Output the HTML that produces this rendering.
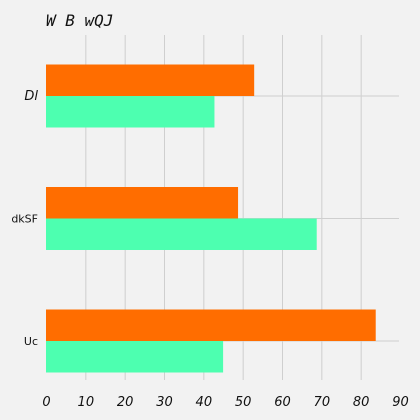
<!DOCTYPE html>
<html><head><meta charset="utf-8"><style>
html,body{margin:0;padding:0;background:#f2f2f2;overflow:hidden;width:420px;height:420px}
svg{display:block}
svg text{font-family:"DejaVu Sans","Liberation Sans",sans-serif}
</style></head><body>
<svg id="c" width="420" height="420" xmlns="http://www.w3.org/2000/svg">
<rect width="420" height="420" fill="#f2f2f2"/>
<text x="46" y="26" font-size="16" font-style="italic" style="font-family:'DejaVu Sans Mono','Liberation Mono',monospace" fill="#111">W B wQJ</text>
<g id="grid"></g><g id="bars"></g><g id="labels"></g>
</svg>
<script>
const categories=["Dl","dkSF","Uc"];
const seriesOrange=[52.8,48.7,83.7];
const seriesGreen=[42.7,68.7,44.9];
const ticks=[0,10,20,30,40,50,60,70,80,90];
const catItalic=[true,false,false];
const NS="http://www.w3.org/2000/svg";
const x0=46.5,x1=400.5,xmax=90;
const xs=v=>x0+(x1-x0)*v/xmax;
const ys=i=>96+i*122.5;
function mk(t,a,p){const e=document.createElementNS(NS,t);for(const k in a)e.setAttribute(k,a[k]);document.getElementById(p).appendChild(e);return e;}
ticks.forEach((t,i)=>{
 if(t>0&&t<xmax){const l=mk("line",{x1:xs(t),x2:xs(t),y1:35,y2:380,stroke:"#cfcfcf","stroke-width":1},"grid");
 
 }
 const tx=mk("text",{x:xs(t),y:406,"font-size":13,"font-style":"italic","text-anchor":"middle",fill:"#111"},"labels");
 tx.textContent=t;
 
 
});
categories.forEach((c,i)=>{
 const y=ys(i);
 const g=mk("line",{x1:x0,x2:399,y1:y,y2:y,stroke:"#cfcfcf","stroke-width":1},"grid");
 
 
 const o=mk("rect",{x:46,y:y-31.5,width:xs(seriesOrange[i])-46,height:31.5,fill:"#ff6d00"},"bars");
 
 
 const gr=mk("rect",{x:46,y:y,width:xs(seriesGreen[i])-46,height:31.5,fill:"#4dffb0"},"bars");
 
 
 const t=mk("text",{x:38,y:y+4,"font-size":catItalic[i]?13:11,"font-style":catItalic[i]?"italic":"normal","text-anchor":"end",fill:"#111"},"labels");
 t.textContent=c;
 
 
});
</script>
</body></html>
